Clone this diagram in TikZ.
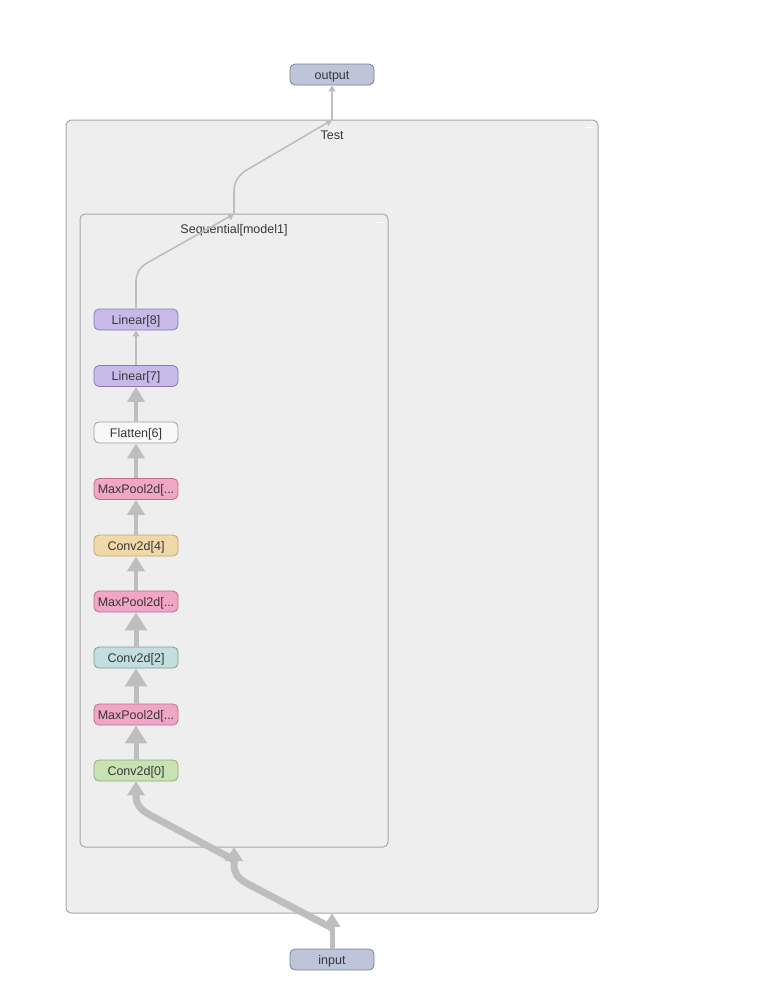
\documentclass[tikz,border=0pt]{standalone}
\usepackage{fontspec}
\setmainfont{Liberation Sans}
\usetikzlibrary{arrows.meta}
\definecolor{edgec}{RGB}{190,190,190}
\definecolor{clfill}{RGB}{238,238,238}
\definecolor{cldraw}{RGB}{168,168,168}
\definecolor{txt}{RGB}{55,55,55}
\definecolor{iofill}{RGB}{190,196,218}
\definecolor{iodraw}{RGB}{120,126,152}
\definecolor{linfill}{RGB}{200,186,232}
\definecolor{lindraw}{RGB}{140,122,178}
\definecolor{flfill}{RGB}{248,248,248}
\definecolor{fldraw}{RGB}{160,160,160}
\definecolor{mpfill}{RGB}{240,166,196}
\definecolor{mpdraw}{RGB}{190,110,145}
\definecolor{c4fill}{RGB}{240,216,168}
\definecolor{c4draw}{RGB}{190,165,110}
\definecolor{c2fill}{RGB}{195,222,222}
\definecolor{c2draw}{RGB}{125,155,155}
\definecolor{c0fill}{RGB}{200,226,180}
\definecolor{c0draw}{RGB}{140,172,118}
\tikzset{
  x=1pt, y=-1pt,
  opnode/.style={draw, rounded corners=5pt, minimum width=84pt, minimum height=21pt,
    inner sep=0pt, line width=0.8pt, font=\fontsize{12.5}{13}\selectfont, text=txt,
    text height=9pt, text depth=0pt},
  cluster/.style={draw=cldraw, fill=clfill, rounded corners=5pt, line width=1pt, inner sep=0pt},
  cltitle/.style={font=\fontsize{12.5}{13}\selectfont, text=txt, text height=9pt, text depth=0pt},
  edge/.style={draw=edgec, line cap=butt},
  thinedge/.style={edge, line width=1.6pt, -{Triangle[width=7pt,length=6pt]}},
  midedge/.style={edge, line width=4pt, -{Triangle[width=17pt,length=15pt]}},
  bigedge/.style={edge, line width=5pt, -{Triangle[width=21pt,length=18pt]}},
  hugeedge/.style={edge, line width=7pt, -{Triangle[width=17pt,length=14pt]}},
  minus/.style={draw=white, line width=1pt}
}
\begin{document}
\begin{tikzpicture}
\useasboundingbox (0,0) rectangle (760,1007);
% clusters
\node[cluster, minimum width=532pt, minimum height=793pt] (test) at (332,516.5) {};
\node[cltitle] (testlbl) at (332,134.5) {Test};
\draw[minus] (586,127) -- (594,127);
\node[cluster, minimum width=308pt, minimum height=633pt] (seq) at (234,530.5) {};
\node[cltitle] (seqlbl) at (234,228.5) {Sequential[model1]};
\draw[minus] (376,222) -- (384,222);
% io nodes
\node[opnode, fill=iofill, draw=iodraw] (out) at (332,74.5) {output};
\node[opnode, fill=iofill, draw=iodraw] (in) at (332,959.5) {input};
% op nodes
\node[opnode, fill=linfill, draw=lindraw] (l8) at (136,319.5) {Linear[8]};
\node[opnode, fill=linfill, draw=lindraw] (l7) at (136,376) {Linear[7]};
\node[opnode, fill=flfill, draw=fldraw] (f6) at (136,432.5) {Flatten[6]};
\node[opnode, fill=mpfill, draw=mpdraw] (m5) at (136,489) {MaxPool2d[...};
\node[opnode, fill=c4fill, draw=c4draw] (c4) at (136,545.5) {Conv2d[4]};
\node[opnode, fill=mpfill, draw=mpdraw] (m3) at (136,601.5) {MaxPool2d[...};
\node[opnode, fill=c2fill, draw=c2draw] (c2) at (136,657.5) {Conv2d[2]};
\node[opnode, fill=mpfill, draw=mpdraw] (m1) at (136,714.5) {MaxPool2d[...};
\node[opnode, fill=c0fill, draw=c0draw] (c0) at (136,770.5) {Conv2d[0]};
% anchor coordinates on cluster borders
\coordinate (tb) at (332,913);
\coordinate (sb) at (234,847);
\coordinate (tt) at (332,120);
\coordinate (st) at (234,214);
\coordinate (tin) at (332,928);
\coordinate (sin) at (234,860);
% chain edges
\draw[bigedge] (c0.north) -- (m1.south);
\draw[bigedge] (m1.north) -- (c2.south);
\draw[bigedge] (c2.north) -- (m3.south);
\draw[midedge] (m3.north) -- (c4.south);
\draw[midedge] (c4.north) -- (m5.south);
\draw[midedge] (m5.north) -- (f6.south);
\draw[midedge] (f6.north) -- (l7.south);
\draw[thinedge] (l7.north) -- (l8.south);
% input side
\draw[edge, line width=5pt, -{Triangle[width=16pt,length=14pt]}] (in.north) -- (tb);
\draw[hugeedge] (tin) -- (248,884) .. controls (237,878) and (234,873) .. (234,864) -- (sb);
\draw[hugeedge] (sin) -- (150,815) .. controls (139,809) and (136,803) .. (136,796) -- (c0.south);
% output side
\draw[thinedge] (l8.north) -- (136,282) .. controls (136,274) and (139,268) .. (147,263) -- (st);
\draw[thinedge] (st) -- (234,192) .. controls (234,183) and (237,177) .. (245,171) -- (tt);
\draw[thinedge] (tt) -- (out.south);
\end{tikzpicture}
\end{document}
